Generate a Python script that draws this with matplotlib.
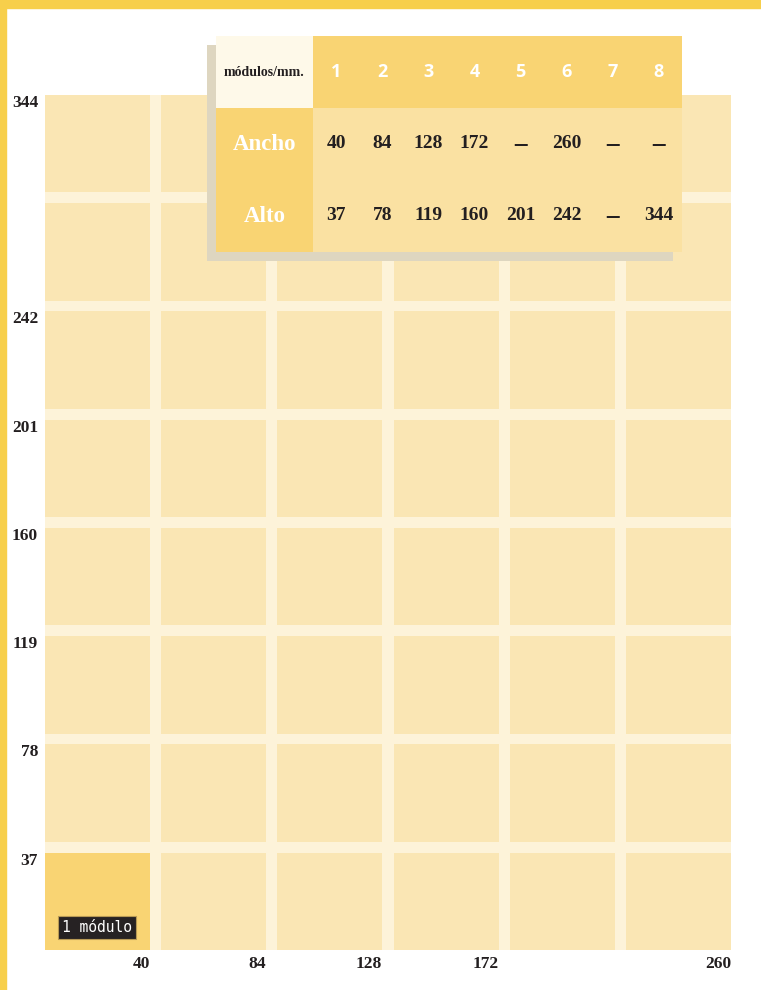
import matplotlib.pyplot as plt
from matplotlib.patches import Rectangle

# medidas en mm para 1..8 módulos (None = no existe)
modulos = [1, 2, 3, 4, 5, 6, 7, 8]
ancho = [40, 84, 128, 172, None, 260, None, None]
alto = [37, 78, 119, 160, 201, 242, None, 344]

n_cols = max(i + 1 for i, v in enumerate(ancho) if v is not None)
n_rows = max(i + 1 for i, v in enumerate(alto) if v is not None)

C_BORDER = "#F7CF4B"
C_CELL = "#FAE6B4"
C_GAP = "#FDF3D9"
C_DARK = "#F9D473"
C_TDATA = "#FAE1A2"
C_THEAD0 = "#FEF9E9"
C_SHADOW = "#DED6C0"
C_TEXT = "#231F20"
SERIF = "Liberation Serif"

W, H = 761, 990
fig = plt.figure(figsize=(W / 100, H / 100), dpi=100, facecolor="white")

# bordes amarillos (arriba e izquierda)
fig.patches.append(Rectangle((0, 1 - 8 / H), 1, 8 / H, transform=fig.transFigure,
                             color=C_BORDER, zorder=0))
fig.patches.append(Rectangle((0, 0), 6 / W, 1, transform=fig.transFigure,
                             color=C_BORDER, zorder=0))

# ---- retícula de módulos ----
gx, gy = 0.096, 0.10
ax = fig.add_axes([45 / W, 40 / H, 686 / W, 855 / H], zorder=1)
ax.set_facecolor(C_GAP)
ax.set_xlim(0, n_cols - gx)
ax.set_ylim(0, n_rows - gy)
for i in range(n_cols):
    for j in range(n_rows):
        col = C_DARK if (i == 0 and j == 0) else C_CELL
        ax.add_patch(Rectangle((i, j), 1 - gx, 1 - gy, color=col, lw=0))

xt = [(i + 1 - gx, str(v)) for i, v in enumerate(ancho) if v is not None and i < n_cols]
yt = [(j + 1 - gy, str(v)) for j, v in enumerate(alto) if v is not None and j < n_rows]
ax.set_xticks([p for p, _ in xt], [s for _, s in xt])
ax.set_yticks([p for p, _ in yt], [s for _, s in yt])
ax.tick_params(length=0, labelsize=12.5, labelcolor=C_TEXT)
ax.tick_params(axis="x", pad=4.5)
ax.tick_params(axis="y", pad=5)
for lb in ax.get_xticklabels():
    lb.set_ha("right")
    lb.set_family(SERIF)
    lb.set_weight("bold")
for lb in ax.get_yticklabels():
    lb.set_va("top")
    lb.set_family(SERIF)
    lb.set_weight("bold")
for s in ax.spines.values():
    s.set_visible(False)

ax.annotate("1 módulo", xy=(0, 0), xytext=(17, 15), textcoords="offset pixels",
            ha="left", va="bottom", color="white", fontsize=10.5,
            family="DejaVu Sans Mono",
            bbox=dict(boxstyle="square,pad=0.3", fc="#262223", ec="#B89A55", lw=0.8))

# ---- tabla ----
tl, tb, tw, th = 216, 252, 466, 216
sh = fig.add_axes([(tl - 9) / W, 1 - (tb + 9) / H, tw / W, th / H], zorder=2)
sh.set_facecolor(C_SHADOW)
sh.set_xticks([])
sh.set_yticks([])
for s in sh.spines.values():
    s.set_visible(False)

at = fig.add_axes([tl / W, 1 - tb / H, tw / W, th / H], zorder=3)
c0 = 97 / (tw - 97) * len(modulos)  # ancho de la primera columna en unidades
at.set_xlim(0, c0 + len(modulos))
at.set_ylim(0, 3)
at.axis("off")

filas = [("Ancho", ancho), ("Alto", alto)]
at.add_patch(Rectangle((0, 2), c0, 1, color=C_THEAD0, lw=0))
at.add_patch(Rectangle((c0, 2), len(modulos), 1, color=C_DARK, lw=0))
at.add_patch(Rectangle((0, 0), c0, 2, color=C_DARK, lw=0))
at.add_patch(Rectangle((c0, 0), len(modulos), 2, color=C_TDATA, lw=0))

at.text(c0 / 2, 2.5, "módulos/mm.", ha="center", va="center", fontsize=10,
        family=SERIF, weight="bold", color=C_TEXT)
for k, m in enumerate(modulos):
    at.text(c0 + k + 0.5, 2.5, str(m), ha="center", va="center", fontsize=13,
            family="Open Sans", weight="bold", color="white")
for r, (nombre, vals) in enumerate(filas):
    y = 1.5 - r
    at.text(c0 / 2, y, nombre, ha="center", va="center", fontsize=16.5,
            family=SERIF, weight="bold", color="white")
    for k, v in enumerate(vals):
        if v is None:
            at.text(c0 + k + 0.5, y, "—", ha="center", va="center", fontsize=10.5,
                    family="DejaVu Sans", weight="bold", color=C_TEXT)
        else:
            at.text(c0 + k + 0.5, y, str(v), ha="center", va="center",
                    fontsize=14, family=SERIF, weight="bold", color=C_TEXT)

fig.savefig("out.png", dpi=100, facecolor="white")
